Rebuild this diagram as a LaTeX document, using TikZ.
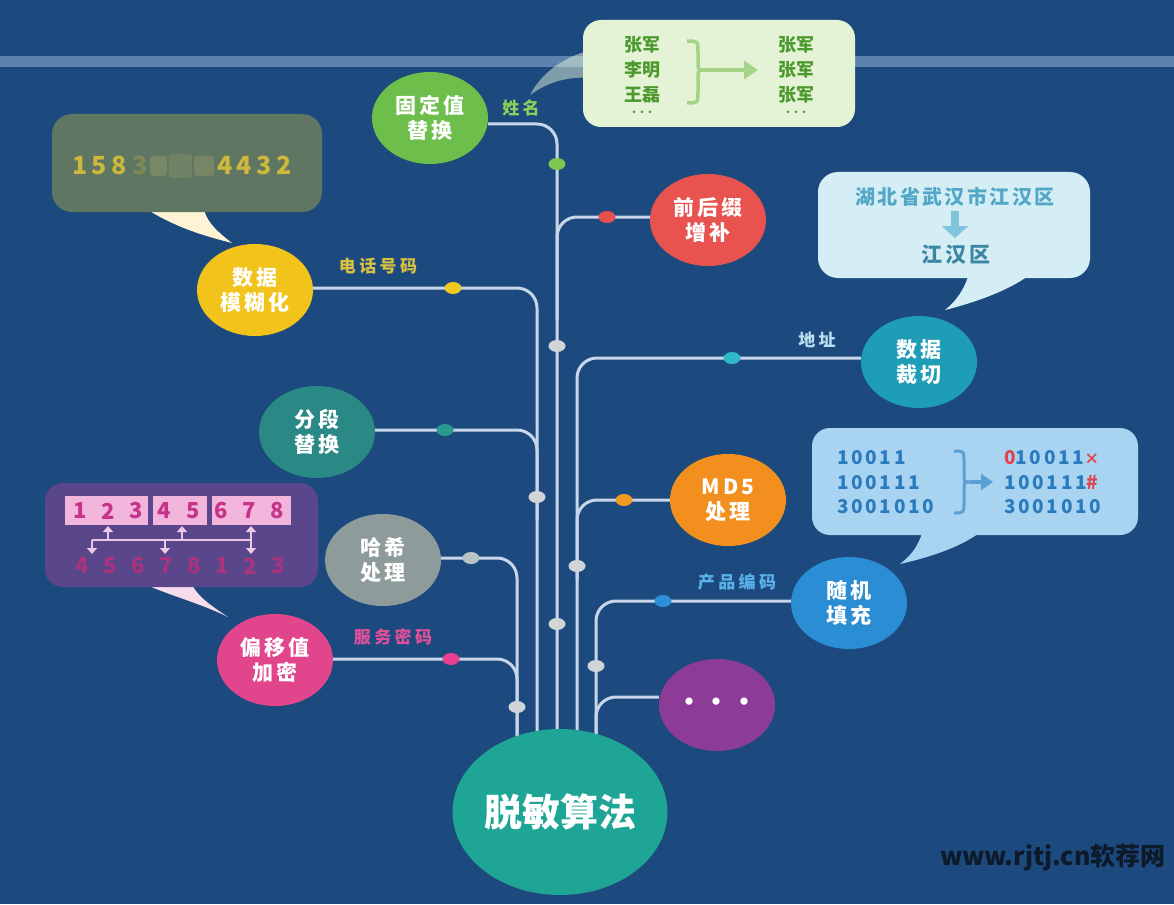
\documentclass[tikz,border=0pt]{standalone}
\usepackage{fontspec}
\setmainfont{Noto Sans CJK SC}
\usetikzlibrary{shapes.geometric,arrows.meta}
\pgfdeclarelayer{bg}\pgfdeclarelayer{lines}
\pgfsetlayers{bg,lines,main}
\definecolor{bgblue}{HTML}{1D4A7E}
\definecolor{band}{HTML}{5C83AD}
\definecolor{linec}{HTML}{C8D6EA}
\definecolor{junc}{HTML}{D2D5D8}
\definecolor{cGreen}{HTML}{6DBE4B}
\definecolor{cRed}{HTML}{E8534F}
\definecolor{cYellow}{HTML}{F2C31B}
\definecolor{cCyan}{HTML}{1E9DB6}
\definecolor{cTeal}{HTML}{2A8885}
\definecolor{cOrange}{HTML}{F38F1E}
\definecolor{cGrey}{HTML}{8D9C9B}
\definecolor{cBlue}{HTML}{2B8DD3}
\definecolor{cPink}{HTML}{E1458C}
\definecolor{cPurple}{HTML}{8C3B96}
\definecolor{cMain}{HTML}{1FA596}
\definecolor{dGreen}{HTML}{7CC850}
\definecolor{dRed}{HTML}{E85050}
\definecolor{dYellow}{HTML}{F0C820}
\definecolor{dCyan}{HTML}{30B8C8}
\definecolor{dTeal}{HTML}{2A9A90}
\definecolor{dOrange}{HTML}{F09A20}
\definecolor{dGrey}{HTML}{B8C4C4}
\definecolor{dBlue}{HTML}{2A90D8}
\definecolor{dPink}{HTML}{E8408E}
\definecolor{lGreen}{HTML}{8CCF5A}
\definecolor{lYellow}{HTML}{D8C040}
\definecolor{lAd}{HTML}{B8DFF0}
\definecolor{lBlue}{HTML}{5AB0E8}
\definecolor{lPink}{HTML}{E0509A}
\definecolor{bubG}{HTML}{E4F3D6}
\definecolor{txtG}{HTML}{4C9A2E}
\definecolor{braceG}{HTML}{A5D487}
\definecolor{bubPh}{HTML}{5F7663}
\definecolor{txtPh}{HTML}{CDB73C}
\definecolor{blurPh}{HTML}{8E976C}
\definecolor{tailPh}{HTML}{FFF3D6}
\definecolor{bubAd}{HTML}{D5EEF5}
\definecolor{txtAd}{HTML}{52A6C6}
\definecolor{txtAdB}{HTML}{3A86A3}
\definecolor{arrAd}{HTML}{7FC3DC}
\definecolor{bubMd}{HTML}{A9D4F1}
\definecolor{txtMd}{HTML}{2A7BBD}
\definecolor{redMd}{HTML}{E2434B}
\definecolor{braceMd}{HTML}{5A9ED6}
\definecolor{bubOf}{HTML}{5A468A}
\definecolor{boxOf}{HTML}{F2B5DC}
\definecolor{txtOf}{HTML}{C8338A}
\definecolor{txtOfB}{HTML}{B8307A}
\definecolor{arrOf}{HTML}{F0C6E6}
\definecolor{tailOf}{HTML}{F7DCEE}
\definecolor{wmark}{HTML}{0D1A2A}
\begin{document}
\begin{tikzpicture}[x=1pt,y=-1pt,
  algo/.style={ellipse, minimum width=116pt, minimum height=92pt, inner sep=0pt, text=white, align=center,
    font=\fontsize{21}{25}\selectfont\bfseries\addfontfeature{LetterSpace=15}},
  conn/.style={line width=3pt, draw=linec, rounded corners=20pt},
  dotn/.style={ellipse, minimum width=17pt, minimum height=12pt, inner sep=0pt},
  jdot/.style={dotn, fill=junc},
  lbl/.style={inner sep=0pt, font=\fontsize{17}{19}\selectfont\bfseries\addfontfeature{LetterSpace=20}},
  tg/.style={inner sep=0pt, text=txtG, font=\fontsize{18}{20}\selectfont\bfseries},
  tm/.style={inner sep=0pt, text=txtMd, anchor=west, font=\fontsize{19}{21}\selectfont\bfseries\addfontfeature{LetterSpace=14}},
  tof/.style={inner sep=0pt, font=\fontsize{22}{24}\selectfont\bfseries}]
\useasboundingbox (0,0) rectangle (1174,904);
\begin{pgfonlayer}{bg}
  \fill[bgblue] (0,0) rectangle (1174,904);
  \fill[band] (0,56) rectangle (1174,67);
\end{pgfonlayer}

% ---------- algorithm nodes ----------
\node[algo, fill=cGreen]  (gdz)  at (430,118) {固定值\\替换};
\node[algo, fill=cRed]    (qhz)  at (708,220) {前后缀\\增补};
\node[algo, fill=cYellow] (mhh)  at (255,290) {数据\\模糊化};
\node[algo, fill=cCyan]   (cq)   at (919,362) {数据\\裁切};
\node[algo, fill=cTeal]   (fd)   at (317,432) {分段\\替换};
\node[algo, fill=cOrange] (md5)  at (728,500) {MD5\\处理};
\node[algo, fill=cGrey]   (hx)   at (383,560) {哈希\\处理};
\node[algo, fill=cBlue]   (sj)   at (849,603) {随机\\填充};
\node[algo, fill=cPink]   (py)   at (275,660) {偏移值\\加密};
\node[algo, fill=cPurple, font=\fontsize{26}{28}\selectfont\bfseries] (more) at (717,705) {•\hspace{2pt}•\hspace{2pt}•};
\node[ellipse, fill=cMain, minimum width=210pt, minimum height=166pt, inner sep=0pt, text=white,
      font=\fontsize{38}{40}\selectfont\bfseries] (main) at (560,812) {脱敏算法};

% ---------- connectors ----------
\begin{pgfonlayer}{lines}
  \draw[conn] ([yshift=-6pt]gdz.east) -- (557,124) -- (557,770);
  \draw[conn] ([yshift=3pt]qhz.west) -- (557,217) -- (557,320);
  \draw[conn] ([yshift=2pt]mhh.east) -- (537,288) -- (537,770);
  \draw[conn] ([yshift=2pt]fd.east) -- (537,430) -- (537,520);
  \draw[conn] ([yshift=2pt]hx.east) -- (517,558) -- (517,770);
  \draw[conn] ([yshift=1pt]py.east) -- (517,659) -- (517,740);
  \draw[conn] ([yshift=4pt]cq.west) -- (577,358) -- (577,770);
  \draw[conn] (md5.west) -- (577,500) -- (577,580);
  \draw[conn] ([yshift=2pt]sj.west) -- (596,601) -- (596,770);
  \draw[conn] ([yshift=8pt]more.west) -- (596,697) -- (596,760);
\end{pgfonlayer}

% ---------- dots ----------
\node[dotn, fill=dGreen]  (d1) at (557,164) {};
\node[dotn, fill=dRed]    (d2) at (607,217) {};
\node[dotn, fill=dYellow] (d3) at (453,288) {};
\node[dotn, fill=dCyan]   (d4) at (732,358) {};
\node[dotn, fill=dTeal]   (d5) at (445,430) {};
\node[dotn, fill=dOrange] (d6) at (624,500) {};
\node[dotn, fill=dGrey]   (d7) at (471,558) {};
\node[dotn, fill=dBlue]   (d8) at (663,601) {};
\node[dotn, fill=dPink]   (d9) at (451,659) {};
\node[jdot] (j1) at (557,346) {};
\node[jdot] (j2) at (537,497) {};
\node[jdot] (j3) at (557,624) {};
\node[jdot] (j4) at (577,566) {};
\node[jdot] (j5) at (596,666) {};
\node[jdot] (j6) at (517,707) {};

% ---------- labels ----------
\node[lbl, text=lGreen]  (l1) at (521,108) {姓名};
\node[lbl, text=lYellow] (l2) at (378,266) {电话号码};
\node[lbl, text=lAd]     (l3) at (817,340) {地址};
\node[lbl, text=lBlue]   (l4) at (737,582) {产品编码};
\node[lbl, text=lPink]   (l5) at (393,637) {服务密码};

% ---------- bubble: fixed value ----------
\fill[bubG, opacity=0.5] (592,50) .. controls (565,56) and (542,72) .. (530,95) .. controls (548,82) and (568,76) .. (592,78) -- cycle;
\fill[bubG, rounded corners=18pt] (583,20) rectangle (855,127);
\node[tg] (g1) at (642,45) {张军};
\node[tg] (g2) at (642,70) {李明};
\node[tg] (g3) at (642,95) {王磊};
\node[tg, font=\fontsize{12}{12}\selectfont\bfseries] (g4) at (642,112) {. . .};
\node[tg] (g5) at (796,45) {张军};
\node[tg] (g6) at (796,70) {张军};
\node[tg] (g7) at (796,95) {张军};
\node[tg, font=\fontsize{12}{12}\selectfont\bfseries] (g8) at (796,112) {. . .};
\draw[braceG, line width=3.5pt] (687,41) .. controls (698,41) .. (698,53) -- (698,62) .. controls (698,70) .. (706,70)
   .. controls (698,70) .. (698,78) -- (698,91) .. controls (698,103) .. (687,103);
\draw[braceG, line width=4pt, -{Triangle[length=14pt,width=18pt]}] (705,70) -- (758,70);

% ---------- bubble: phone ----------
\fill[tailPh] (140,205) .. controls (175,228) and (205,236) .. (232,243) .. controls (215,230) and (205,220) .. (203,205) -- cycle;
\fill[bubPh, rounded corners=20pt] (52,114) rectangle (322,212);
\node[anchor=west, inner sep=0pt, text=txtPh, font=\fontsize{25}{27}\selectfont\bfseries\addfontfeature{LetterSpace=18}] (p1) at (72,165) {158};
\node[anchor=west, inner sep=0pt, text=txtPh, opacity=0.3, font=\fontsize{25}{27}\selectfont\bfseries] (p0) at (132,165) {3};
\fill[blurPh, opacity=0.55, rounded corners=3pt] (150,156) rectangle (167,176);
\fill[blurPh, opacity=0.4, rounded corners=3pt] (169,154) rectangle (192,178);
\fill[blurPh, opacity=0.5, rounded corners=3pt] (194,156) rectangle (214,176);
\node[anchor=west, inner sep=0pt, text=txtPh, font=\fontsize{25}{27}\selectfont\bfseries\addfontfeature{LetterSpace=18}] (p2) at (217,165) {4432};

% ---------- bubble: address ----------
\fill[bubAd] (970,270) .. controls (965,290) and (955,302) .. (945,310) .. controls (985,300) and (1020,285) .. (1035,270) -- cycle;
\fill[bubAd, rounded corners=20pt] (818,172) rectangle (1090,278);
\node[inner sep=0pt, text=txtAd, font=\fontsize{20}{22}\selectfont\bfseries\addfontfeature{LetterSpace=12}] (a1) at (955,197) {湖北省武汉市江汉区};
\draw[arrAd, line width=8pt, -{Triangle[length=12pt,width=26pt]}] (955,211) -- (955,238);
\node[inner sep=0pt, text=txtAdB, font=\fontsize{21}{23}\selectfont\bfseries\addfontfeature{LetterSpace=14}] (a2) at (956,255) {江汉区};

% ---------- bubble: random fill ----------
\fill[bubMd] (923,530) .. controls (918,548) and (910,556) .. (900,564) .. controls (935,556) and (965,545) .. (983,530) -- cycle;
\fill[bubMd, rounded corners=18pt] (812,428) rectangle (1138,535);
\node[tm] (m1) at (837,458) {10011};
\node[tm] (m2) at (837,483) {100111};
\node[tm] (m3) at (837,507) {3001010};
\node[tm] (m4) at (1004,458) {\textcolor{redMd}{0}10011\textcolor{redMd}{\fontsize{15}{15}\selectfont ×}};
\node[tm] (m5) at (1004,483) {100111\textcolor{redMd}{\#}};
\node[tm] (m6) at (1004,507) {3001010};
\draw[braceMd, line width=3pt] (954,451) .. controls (964,451) .. (964,462) -- (964,474) .. controls (964,482) .. (971,482)
   .. controls (964,482) .. (964,490) -- (964,502) .. controls (964,513) .. (954,513);
\draw[braceMd, line width=4pt, -{Triangle[length=12pt,width=16pt]}] (970,482) -- (993,482);

% ---------- bubble: offset ----------
\fill[tailOf] (135,580) .. controls (170,596) and (200,603) .. (228,617) .. controls (210,605) and (195,595) .. (190,580) -- cycle;
\fill[bubOf, rounded corners=18pt] (45,483) rectangle (318,587);
\fill[boxOf] (65,496) rectangle (148,525);
\fill[boxOf] (153,496) rectangle (207,525);
\fill[boxOf] (212,496) rectangle (291,525);
\foreach \d [count=\i] in {1,2,3,4,5,6,7,8}
  \node[tof, text=txtOf] (ot\i) at ({80+28.2*(\i-1)},511) {\d};
\foreach \d [count=\i] in {4,5,6,7,8,1,2,3}
  \node[tof, text=txtOfB, opacity=0.85] (ob\i) at ({82+28.0*(\i-1)},566) {\d};
\draw[arrOf, line width=2.5pt] (92,540) -- (252,540);
\foreach \x in {108,182,251}
  \draw[arrOf, line width=2.5pt, -{Triangle[length=6pt,width=10pt]}] (\x,540) -- (\x,526);
\foreach \x in {92,165,251}
  \draw[arrOf, line width=2.5pt, -{Triangle[length=6pt,width=10pt]}] (\x,540) -- (\x,554);

% ---------- watermark ----------
\node[anchor=east, inner sep=0pt, text=wmark, font=\fontsize{25}{27}\selectfont\bfseries] (wm) at (1166,858) {www.rjtj.cn软荐网};
\end{tikzpicture}
\end{document}
